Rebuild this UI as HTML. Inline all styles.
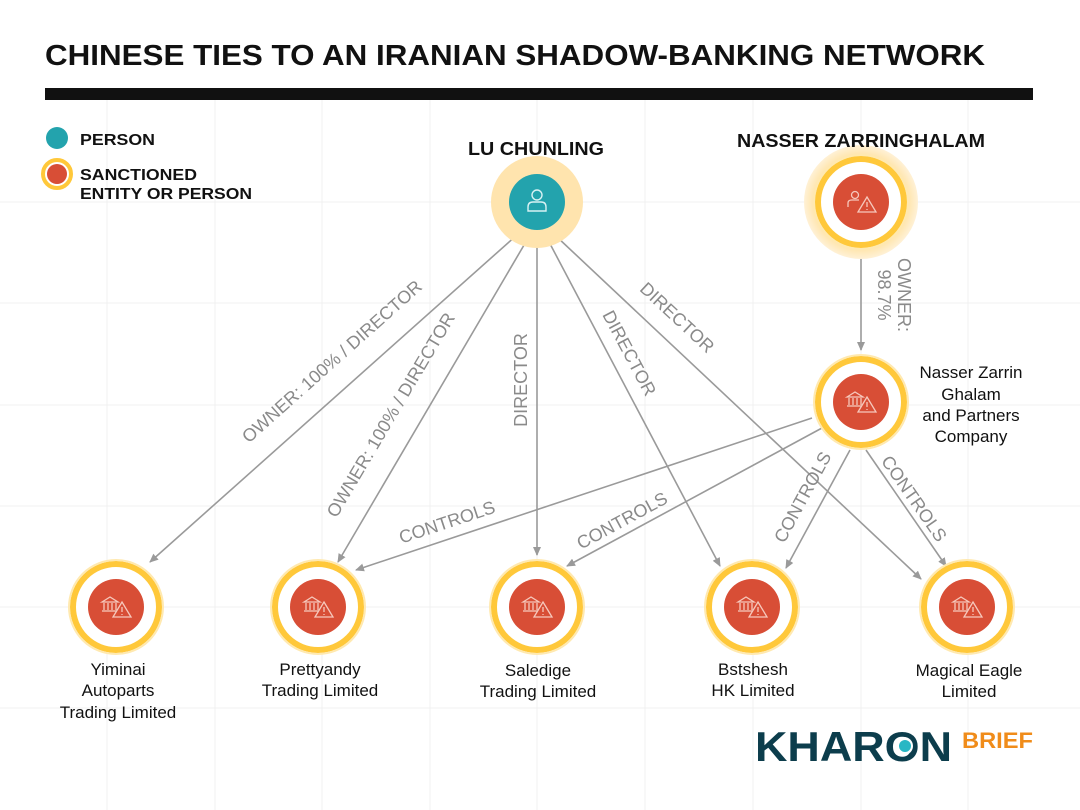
<!DOCTYPE html>
<html><head><meta charset="utf-8"><style>
html,body{margin:0;padding:0;background:#fff}
svg{display:block}
text{font-family:"Liberation Sans",sans-serif}
</style></head><body>
<svg width="1080" height="810" viewBox="0 0 1080 810" xmlns="http://www.w3.org/2000/svg">
<defs>
<marker id="ar" markerWidth="10" markerHeight="10" refX="8" refY="5" orient="auto" markerUnits="userSpaceOnUse">
<path d="M0,1 L9,5 L0,9 Z" fill="#9a9a9a"/></marker>
<radialGradient id="glow"><stop offset="0.85" stop-color="#ffe7b3"/><stop offset="1" stop-color="#fff1d6"/></radialGradient>
<g id="sanc">
<circle r="43" fill="#fff" stroke="#ffc83a" stroke-width="6"/>
<circle r="47" fill="none" stroke="#ffe9b0" stroke-width="2"/>
<circle r="28" fill="#d84e36"/>
</g>
<g id="bank" fill="none" stroke="#f6c8bc" stroke-width="1.3">
<path d="M-14,-5 L-6,-10 L2,-5 Z"/><path d="M-12,-4 V3 M-8,-4 V3 M-4,-4 V3 M0,-4 V3"/><path d="M-14,4 H2"/>
<path d="M6,-5 L15,10 L-3,10 Z" fill="#d84e36"/><path d="M6,0 V5 M6,7 V8"/>
</g>
<g id="pwarn" fill="none" stroke="#f6c8bc" stroke-width="1.3">
<circle cx="-6" cy="-7" r="3.5"/><path d="M-13,5 V1 Q-13,-2 -9,-2 H-2"/>
<path d="M6,-5 L15,10 L-3,10 Z" fill="#d84e36"/><path d="M6,0 V5 M6,7 V8"/>
</g>
</defs>
<!-- grid -->
<g stroke="#f1f1f1" stroke-width="1">
<line x1="107" y1="100" x2="107" y2="810"/><line x1="215" y1="100" x2="215" y2="810"/><line x1="322" y1="100" x2="322" y2="810"/><line x1="430" y1="100" x2="430" y2="810"/><line x1="537" y1="100" x2="537" y2="810"/><line x1="645" y1="100" x2="645" y2="810"/><line x1="753" y1="100" x2="753" y2="810"/><line x1="861" y1="100" x2="861" y2="810"/><line x1="968" y1="100" x2="968" y2="810"/>
<line x1="0" y1="202" x2="1080" y2="202"/><line x1="0" y1="303" x2="1080" y2="303"/><line x1="0" y1="405" x2="1080" y2="405"/><line x1="0" y1="506" x2="1080" y2="506"/><line x1="0" y1="607" x2="1080" y2="607"/><line x1="0" y1="708" x2="1080" y2="708"/>
</g>
<text x="45" y="65" font-size="29" font-weight="bold" fill="#111" textLength="940" lengthAdjust="spacingAndGlyphs">CHINESE TIES TO AN IRANIAN SHADOW-BANKING NETWORK</text>
<rect x="45" y="88" width="988" height="12" fill="#111"/>
<!-- legend -->
<circle cx="57" cy="138" r="11" fill="#23a3ad"/>
<text x="80" y="145" font-size="16" font-weight="bold" fill="#111" textLength="75" lengthAdjust="spacingAndGlyphs">PERSON</text>
<circle cx="57" cy="174" r="14" fill="#fff" stroke="#ffc83a" stroke-width="4"/>
<circle cx="57" cy="174" r="10" fill="#d84e36"/>
<text x="80" y="180" font-size="16" font-weight="bold" fill="#111" textLength="117" lengthAdjust="spacingAndGlyphs">SANCTIONED</text>
<text x="80" y="199" font-size="16" font-weight="bold" fill="#111" textLength="172" lengthAdjust="spacingAndGlyphs">ENTITY OR PERSON</text>
<!-- edges -->
<g stroke="#9a9a9a" stroke-width="1.6" fill="none" marker-end="url(#ar)">
<line x1="518" y1="234" x2="150" y2="562"/>
<line x1="527" y1="240" x2="338" y2="562"/>
<line x1="537" y1="245" x2="537" y2="555"/>
<line x1="548" y1="240" x2="720" y2="566"/>
<line x1="557" y1="237" x2="921" y2="579"/>
<line x1="861" y1="255" x2="861" y2="350"/>
<line x1="812" y1="418" x2="356" y2="570"/>
<line x1="822" y1="428" x2="567" y2="566"/>
<line x1="850" y1="450" x2="786" y2="568"/>
<line x1="866" y1="450" x2="946" y2="566"/>
</g>
<g font-size="18" fill="#8a8a8a" text-anchor="middle">
<text transform="translate(336,366) rotate(-41.7)">OWNER: 100% / DIRECTOR</text>
<text transform="translate(396,418) rotate(-59.4)">OWNER: 100% / DIRECTOR</text>
<text transform="translate(527,380) rotate(-90)">DIRECTOR</text>
<text transform="translate(624,356) rotate(62)">DIRECTOR</text>
<text transform="translate(673,322) rotate(43)">DIRECTOR</text>
<text transform="translate(898,295) rotate(90)">OWNER:</text>
<text transform="translate(878,295) rotate(90)">98.7%</text>
<text transform="translate(449,528) rotate(-18.4)">CONTROLS</text>
<text transform="translate(625,526) rotate(-28.4)">CONTROLS</text>
<text transform="translate(808,500) rotate(-61.6)">CONTROLS</text>
<text transform="translate(909,502) rotate(55.2)">CONTROLS</text>
</g>
<!-- Lu Chunling -->
<circle cx="537" cy="202" r="46" fill="#ffe4ae"/>
<circle cx="537" cy="202" r="28" fill="#23a3ad"/>
<g fill="none" stroke="#d8f1f3" stroke-width="1.4"><circle cx="537" cy="195" r="5"/><path d="M528,211 V207 Q528,202 533,202 H541 Q546,202 546,207 V211 Z"/></g>
<text x="468" y="155" font-size="18" font-weight="bold" fill="#111" textLength="136" lengthAdjust="spacingAndGlyphs">LU CHUNLING</text>
<!-- Nasser -->
<circle cx="861" cy="202" r="57" fill="url(#glow)"/>
<use href="#sanc" x="861" y="202"/><use href="#pwarn" x="861" y="202"/>
<text x="737" y="147" font-size="18" font-weight="bold" fill="#111" textLength="248" lengthAdjust="spacingAndGlyphs">NASSER ZARRINGHALAM</text>
<!-- company -->
<use href="#sanc" x="861" y="402"/><use href="#bank" x="861" y="402"/>
<g font-size="17" fill="#111" text-anchor="middle">
<text x="971" y="378">Nasser Zarrin</text><text x="971" y="400">Ghalam</text><text x="971" y="421">and Partners</text><text x="971" y="442">Company</text>
</g>
<!-- bottom -->
<use href="#sanc" x="116" y="607"/><use href="#bank" x="116" y="607"/>
<use href="#sanc" x="318" y="607"/><use href="#bank" x="318" y="607"/>
<use href="#sanc" x="537" y="607"/><use href="#bank" x="537" y="607"/>
<use href="#sanc" x="752" y="607"/><use href="#bank" x="752" y="607"/>
<use href="#sanc" x="967" y="607"/><use href="#bank" x="967" y="607"/>
<g font-size="17" fill="#111" text-anchor="middle">
<text x="118" y="675">Yiminai</text><text x="118" y="696">Autoparts</text><text x="118" y="718">Trading Limited</text>
<text x="320" y="675">Prettyandy</text><text x="320" y="696">Trading Limited</text>
<text x="538" y="676">Saledige</text><text x="538" y="697">Trading Limited</text>
<text x="753" y="675">Bstshesh</text><text x="753" y="696">HK Limited</text>
<text x="969" y="676">Magical Eagle</text><text x="969" y="697">Limited</text>
</g>
<!-- logo -->
<text x="755" y="761" font-size="42" font-weight="bold" fill="#0c3d4c" textLength="197" lengthAdjust="spacingAndGlyphs">KHARON</text>
<circle cx="904" cy="746" r="9" fill="#fff"/>
<circle cx="905" cy="746" r="6" fill="#28b7c4"/>
<text x="962" y="748" font-size="22" font-weight="bold" fill="#f08c1a" textLength="71" lengthAdjust="spacingAndGlyphs">BRIEF</text>
</svg>
</body></html>
